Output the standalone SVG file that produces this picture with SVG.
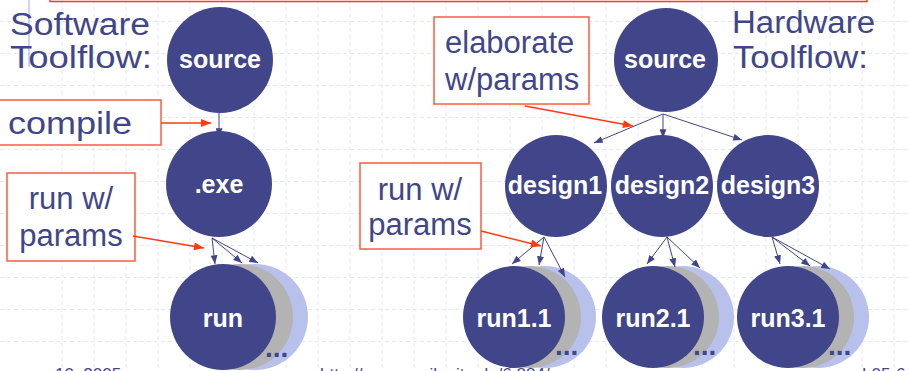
<svg xmlns="http://www.w3.org/2000/svg" width="909" height="371" viewBox="0 0 909 371">
  <defs>
    <style>
      .grid { stroke: #e2e8f8; stroke-width: 1; stroke-dasharray: 4 3; fill: none; }
      .node { fill: #41468a; }
      .ghost1 { fill: #b3b3b3; }
      .ghost2 { fill: #b8c1ec; }
      .label { font-family: "Liberation Sans", Arial, sans-serif; font-weight: bold; font-size: 25px; fill: #ffffff; text-anchor: middle; }
      .more { font-family: "Liberation Sans", Arial, sans-serif; font-weight: bold; font-size: 28px; fill: #41468a; }
      .title { font-family: "Liberation Sans", Arial, sans-serif; font-size: 31px; fill: #41468a; }
      .note { font-family: "Liberation Sans", Arial, sans-serif; font-size: 31px; fill: #41468a; }
      .box { fill: #ffffff; stroke: #ff5a3c; stroke-width: 1.5; }
      .flow { stroke: #41468a; stroke-width: 1; fill: none; marker-end: url(#blueHead); }
      .callout { stroke: #ff3a10; stroke-width: 1.3; fill: none; marker-end: url(#redHead); }
      .footer { font-family: "Liberation Sans", Arial, sans-serif; font-size: 17px; fill: #41468a; }
    </style>
    <marker id="blueHead" viewBox="0 0 10 8" refX="10" refY="4" markerWidth="9" markerHeight="7" markerUnits="userSpaceOnUse" orient="auto">
      <path d="M0,0 L10,4 L0,8 z" fill="#41468a"/>
    </marker>
    <marker id="redHead" viewBox="0 0 10 8" refX="10" refY="4" markerWidth="11" markerHeight="8" markerUnits="userSpaceOnUse" orient="auto">
      <path d="M0,0 L10,4 L0,8 z" fill="#ff3a10"/>
    </marker>
  </defs>

  <!-- page background and grid -->
  <rect width="909" height="371" fill="#ffffff"/>
  <path class="grid" d="M62,0V371 M94,0V371 M126,0V371 M158,0V371 M190,0V371 M222,0V371 M254,0V371 M286,0V371 M318,0V371 M350,0V371 M382,0V371 M414,0V371 M446,0V371 M478,0V371 M510,0V371 M542,0V371 M574,0V371 M606,0V371 M638,0V371 M670,0V371 M702,0V371 M734,0V371 M766,0V371 M798,0V371 M830,0V371 M862,0V371 M894,0V371"/>
  <path class="grid" d="M0,21.5H909 M0,53.5H909 M0,85.5H909 M0,117.5H909 M0,149.5H909 M0,181.5H909 M0,213.5H909 M0,245.5H909 M0,277.5H909 M0,309.5H909 M0,341.5H909"/>
  <line x1="29" y1="0" x2="29" y2="67" stroke="#a9b9f2" stroke-width="1.2"/>
  <rect x="50" y="-40" width="817" height="41.5" fill="none" stroke="#ff3a1a" stroke-width="1.5"/>

  <!-- headings -->
  <text class="title" x="10" y="35" textLength="140" lengthAdjust="spacingAndGlyphs">Software</text>
  <text class="title" x="10" y="68" textLength="142" lengthAdjust="spacingAndGlyphs">Toolflow:</text>
  <text class="title" x="732" y="33" textLength="143" lengthAdjust="spacingAndGlyphs">Hardware</text>
  <text class="title" x="733" y="68" textLength="135" lengthAdjust="spacingAndGlyphs">Toolflow:</text>

  <!-- software toolflow nodes -->
  <g id="sw-source">
    <circle class="node" cx="220" cy="60" r="53"/>
    <text class="label" x="220" y="68">source</text>
  </g>
  <g id="sw-exe">
    <circle class="node" cx="219" cy="184" r="53"/>
    <text class="label" x="219" y="193">.exe</text>
  </g>
  <g id="sw-run">
    <circle class="ghost2" cx="255" cy="317" r="53"/>
    <circle class="ghost1" cx="240" cy="317" r="53"/>
    <circle class="node" cx="223" cy="317" r="53"/>
    <text class="label" x="223" y="327">run</text>
    <text class="more" x="265" y="357">...</text>
  </g>

  <!-- hardware toolflow nodes -->
  <g id="hw-source">
    <circle class="node" cx="666" cy="60" r="52"/>
    <text class="label" x="665" y="68">source</text>
  </g>
  <g id="hw-design1">
    <circle class="node" cx="556" cy="186" r="51"/>
    <text class="label" x="555" y="194">design1</text>
  </g>
  <g id="hw-design2">
    <circle class="node" cx="662" cy="186" r="51"/>
    <text class="label" x="662" y="194">design2</text>
  </g>
  <g id="hw-design3">
    <circle class="node" cx="768" cy="186" r="51"/>
    <text class="label" x="768" y="194">design3</text>
  </g>
  <g id="hw-run1">
    <circle class="ghost2" cx="545" cy="317" r="51"/>
    <circle class="ghost1" cx="530" cy="317" r="51"/>
    <circle class="node" cx="514" cy="317" r="51"/>
    <text class="label" x="514" y="327">run1.1</text>
    <text class="more" x="555" y="355">...</text>
  </g>
  <g id="hw-run2">
    <circle class="ghost2" cx="683" cy="317" r="51"/>
    <circle class="ghost1" cx="668" cy="317" r="51"/>
    <circle class="node" cx="653" cy="317" r="51"/>
    <text class="label" x="653" y="327">run2.1</text>
    <text class="more" x="693" y="355">...</text>
  </g>
  <g id="hw-run3">
    <circle class="ghost2" cx="818" cy="317" r="51"/>
    <circle class="ghost1" cx="803" cy="317" r="51"/>
    <circle class="node" cx="788" cy="317" r="51"/>
    <text class="label" x="788" y="327">run3.1</text>
    <text class="more" x="828" y="355">...</text>
  </g>

  <!-- callout boxes -->
  <g id="note-compile">
    <rect class="box" x="-10" y="100" width="171" height="45"/>
    <text class="note" x="8" y="134" textLength="124" lengthAdjust="spacingAndGlyphs">compile</text>
  </g>
  <g id="note-run-sw">
    <rect class="box" x="7" y="173" width="128" height="88"/>
    <text class="note" x="71" y="209" text-anchor="middle">run w/</text>
    <text class="note" x="71" y="246" text-anchor="middle">params</text>
  </g>
  <g id="note-elaborate">
    <rect class="box" x="434" y="17" width="155" height="87"/>
    <text class="note" x="445" y="53">elaborate</text>
    <text class="note" x="445" y="90">w/params</text>
  </g>
  <g id="note-run-hw">
    <rect class="box" x="360" y="163" width="121" height="86"/>
    <text class="note" x="420" y="200" text-anchor="middle">run w/</text>
    <text class="note" x="420" y="235" text-anchor="middle">params</text>
  </g>

  <!-- connectors -->
  <g id="connectors">
    <path class="flow" d="M219,113 L219,137"/>
    <path class="flow" d="M212,238 L215,264"/>
    <path class="flow" d="M212,238 L242,263"/>
    <path class="flow" d="M212,238 L258,263"/>

    <path class="flow" d="M663,114 L594,143"/>
    <path class="flow" d="M663,114 L663,138"/>
    <path class="flow" d="M663,114 L742,140"/>

    <path class="flow" d="M544,237 L512,264"/>
    <path class="flow" d="M544,237 L539,265"/>
    <path class="flow" d="M544,237 L565,277"/>

    <path class="flow" d="M667,237 L647,264"/>
    <path class="flow" d="M667,237 L675,267"/>
    <path class="flow" d="M667,237 L700,268"/>

    <path class="flow" d="M772,237 L780,264"/>
    <path class="flow" d="M772,237 L810,266"/>
    <path class="flow" d="M772,237 L830,269"/>

    <path class="callout" d="M161,123 L211,123"/>
    <path class="callout" d="M133,236 L204,248"/>
    <path class="callout" d="M525,106 L633,126"/>
    <path class="callout" d="M481,231 L541,246"/>
  </g>

  <!-- footer, running off the bottom edge of the page -->
  <text class="footer" x="55" y="380">10, 2005</text>
  <text class="footer" x="320" y="380">http://www.csail.mit.edu/6.884/</text>
  <text class="footer" x="862" y="380">L05-6</text>
</svg>
